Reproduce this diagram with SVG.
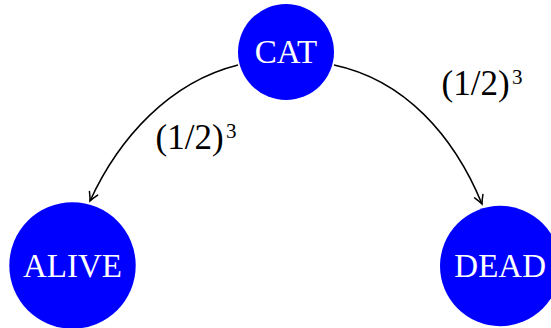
<svg xmlns="http://www.w3.org/2000/svg" width="551" height="328" viewBox="0 0 551 328">
<style>
.node circle{fill:#0000FF;stroke:none}
.node text{fill:#FFFFFF;font-family:"Liberation Serif","DejaVu Serif",serif;font-size:33px;text-anchor:middle}
.edge{fill:none;stroke:#000;stroke-width:1.5}
.lbl{fill:#000;font-family:"Liberation Serif","DejaVu Serif",serif;font-size:35px}
.sup{font-size:21px}
</style>
<defs>
<marker id="arr" markerUnits="userSpaceOnUse" markerWidth="14" markerHeight="14" refX="0" refY="0" viewBox="-10 -7 14 14" orient="auto" overflow="visible">
<path d="M -8.5,-4.5 Q -3,-1.2 0,0 Q -3,1.2 -8.5,4.5" fill="none" stroke="#000" stroke-width="1.5" stroke-linecap="round"/>
</marker>
</defs>
<g id="connectors">
<path class="edge" d="M 238,65 C 169.3,82.1 118.8,138.3 90,201" marker-end="url(#arr)"/>
<path class="edge" d="M 334,65 C 405,80 454,136 482,204" marker-end="url(#arr)"/>
<text class="lbl" x="155.5" y="148.7">(1/2)<tspan class="sup" x="226" y="138">3</tspan></text>
<text class="lbl" x="441.5" y="94.7">(1/2)<tspan class="sup" x="512" y="84">3</tspan></text>
</g>
<g id="CAT" class="node">
<circle cx="286" cy="52" r="48"/>
<text x="286" y="63.3">CAT</text>
</g>
<g id="ALIVE" class="node">
<circle cx="72.5" cy="265.5" r="63.2"/>
<text x="72.5" y="276.7">ALIVE</text>
</g>
<g id="DEAD" class="node">
<circle cx="500.2" cy="266" r="60.2"/>
<text x="500.2" y="276.7">DEAD</text>
</g>
</svg>
